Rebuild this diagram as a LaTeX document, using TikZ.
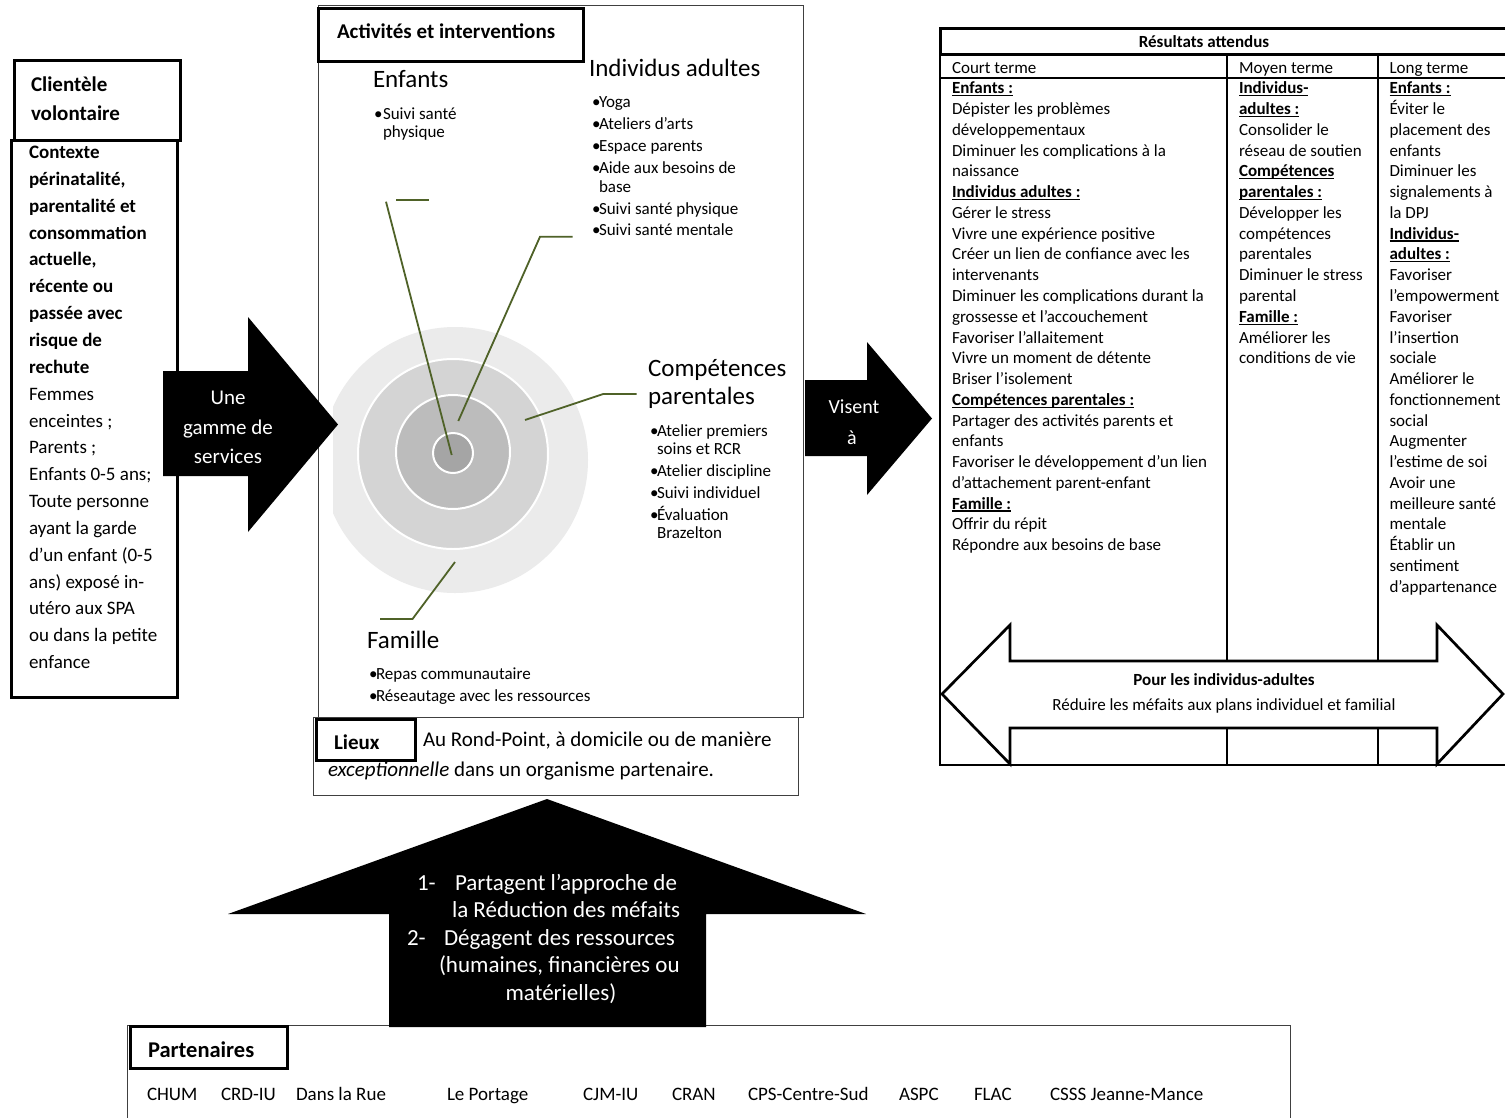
\documentclass[tikz,border=0pt]{standalone}
\usepackage{fontspec}
\setmainfont{Carlito}
\usetikzlibrary{calc}
\definecolor{smartgreen}{HTML}{4F6228}
\definecolor{ringA}{HTML}{EBEBEB}
\definecolor{ringB}{HTML}{D4D4D4}
\definecolor{ringC}{HTML}{BCBCBC}
\definecolor{ringD}{HTML}{A5A5A5}
\newcommand\fs[2]{\fontsize{#1}{#2}\selectfont}
\newsavebox\ulbox
\newcommand\myul[1]{\sbox\ulbox{#1}\rlap{\rule[-2.4pt]{\wd\ulbox}{1.1pt}}\usebox\ulbox}
\newcommand\bul[1]{\myul{\textbf{#1}}}
\newcommand\txtlines[6]{%
  \foreach \myline [count=\myi] in {#6} {%
    \node[txt, #1] (#2-\myi) at (#3, {#4+(\myi-1)*#5}) {\myline};
  }%
}
\tikzset{
  txt/.style={inner sep=0pt, outer sep=0pt, anchor=base west},
  ctxt/.style={inner sep=0pt, outer sep=0pt, anchor=base},
  thickbox/.style={draw=black, line width=3pt},
  thinbox/.style={draw=black!75, line width=1pt},
  tline/.style={draw=black, line width=1.3pt},
  callout/.style={draw=smartgreen, line width=1.8pt},
  ring/.style={draw=white, line width=2pt},
  blockarrow/.style={fill=black, draw=none},
  bodyL/.style={font=\fs{19}{23}},
  bodyLb/.style={font=\fs{19}{23}\bfseries},
  item/.style={font=\fs{17}{20}},
  head/.style={font=\fs{25}{30}},
  tab/.style={font=\fs{17}{20}},
  white21/.style={font=\fs{21}{25}, text=white},
  white23/.style={font=\fs{23}{27}, text=white},
}
\begin{document}
\begin{tikzpicture}[x=1pt,y=-1pt]
\fill[white] (0,0) rectangle (1505,1117);
\useasboundingbox (0,0) rectangle (1505,1117);

% ---------------- Left box: clientele
\draw[thickbox] (11,140) rectangle (177,697);
\draw[thickbox, fill=white] (14,60) rectangle (180,140);
\node[txt, font=\fs{21}{25}\bfseries] (cl1) at (31,91) {Clientèle};
\node[txt, font=\fs{21}{25}\bfseries] (cl2) at (31,120) {volontaire};
\txtlines{bodyLb}{ctx}{29}{158.6}{26.84}{{Contexte},{périnatalité,},{parentalité et},{consommation},{actuelle,},{récente ou},{passée avec},{risque de},{rechute}}
\txtlines{bodyL}{pop}{29}{400.2}{26.84}{{Femmes},{enceintes ;},{Parents ;},{Enfants 0-5 ans;},{Toute personne},{ayant la garde},{d’un enfant (0-5},{ans) exposé in-},{utéro aux SPA},{ou dans la petite},{enfance}}

% ---------------- Central box
\draw[thinbox] (318,5) rectangle (803,717);
\begin{scope}
  \clip (333,0) rectangle (800,800);
  \fill[ringA] (455,460) circle[radius=133];
\end{scope}
\draw[ring, fill=ringB] (453,454) circle[radius=95];
\draw[ring, fill=ringC] (453,452) circle[radius=57];
\draw[ring, fill=ringD] (453,453) circle[radius=20];
\draw[callout] (451.7,455) -- (386,201.7);
\draw[callout] (396,200) -- (429,200);
\draw[callout] (458.3,421) -- (540,236.7) -- (572.7,236.7);
\draw[callout] (525,420) -- (603.3,394) -- (636.7,394);
\draw[callout] (455,562) -- (412.5,619) -- (380,619);

\draw[thickbox, fill=white] (318,8) rectangle (583,61);
\node[txt, font=\fs{21}{25}\bfseries] (act) at (337,38.5) {Activités et interventions};

\node[txt, head] (enf) at (373,87) {Enfants};
\node[txt, item] (enfb) at (374,119) {•};
\txtlines{item}{enft}{383}{119}{18.5}{{Suivi santé},{physique}}

\node[txt, head] (ind) at (589,76) {Individus adultes};
\foreach \yy [count=\k] in {107,129,151,173,214,235} {\node[txt, item] (indb-\k) at (592,\yy) {•};}
\node[txt, item] (ind1) at (599,107) {Yoga};
\node[txt, item] (ind2) at (599,129) {Ateliers d\symbol{39}arts};
\node[txt, item] (ind3) at (599,151) {Espace parents};
\txtlines{item}{ind4}{599}{173}{19}{{Aide aux besoins de},{base}}
\node[txt, item] (ind5) at (599,214) {Suivi santé physique};
\node[txt, item] (ind6) at (599,235) {Suivi santé mentale};

\node[txt, head] (cp1) at (648,376) {Compétences};
\node[txt, head] (cp2) at (648,404) {parentales};
\foreach \yy [count=\k] in {436,476,498,520} {\node[txt, item] (cpb-\k) at (650,\yy) {•};}
\txtlines{item}{cpa}{657}{436}{18.5}{{Atelier premiers},{soins et RCR}}
\node[txt, item] (cpc) at (657,476) {Atelier discipline};
\node[txt, item] (cpd) at (657,498) {Suivi individuel};
\txtlines{item}{cpe}{657}{520}{18.5}{{Évaluation},{Brazelton}}

\node[txt, head] (fam) at (367,648) {Famille};
\foreach \yy [count=\k] in {679,701} {\node[txt, item] (famb-\k) at (369,\yy) {•};}
\node[txt, item] (fam1) at (376,679) {Repas communautaire};
\node[txt, item] (fam2) at (376,701) {Réseautage avec les ressources};

% ---------------- Lieux
\draw[thinbox] (313,717) rectangle (798,795);
\draw[thickbox, fill=white] (316,719) rectangle (415,760);
\node[txt, font=\fs{21}{25}\bfseries] (lx) at (334,749) {Lieux};
\node[txt, font=\fs{21}{25}] (lx1) at (423,746) {Au Rond-Point, à domicile ou de manière};
\node[txt, font=\fs{21}{25}] (lx2) at (328,776) {\textit{exceptionnelle} dans un organisme partenaire.};

% ---------------- Arrow 1
\fill[blockarrow] (163,371) -- (248,371) -- (248,317) -- (338,424.5) -- (248,532) -- (248,476) -- (163,476) -- cycle;
\node[ctxt, white21] (a1) at (228,404) {Une};
\node[ctxt, white21] (a2) at (228,434) {gamme de};
\node[ctxt, white21] (a3) at (228,463) {services};

% ---------------- Arrow 2
\fill[blockarrow] (805,380) -- (867,380) -- (867,342) -- (932,418.5) -- (867,495) -- (867,456) -- (805,456) -- cycle;
\node[ctxt, font=\fs{20}{24}, text=white] (v1) at (854,413) {Visent};
\node[ctxt, font=\fs{20}{24}, text=white] (v2) at (852,444) {à};

% ---------------- Results table
\draw[line width=3pt] (940,28) rectangle (1512,54);
\node[ctxt, font=\fs{17}{20}\bfseries] (res) at (1204,47) {Résultats attendus};
\draw[tline] (940,54) -- (940,765) -- (1512,765);
\draw[tline] (940,78) -- (1512,78);
\draw[tline] (1227,54) -- (1227,765);
\draw[tline] (1378,54) -- (1378,765);
\txtlines{tab}{c1}{952}{73}{20.77}{{Court terme},{\bul{Enfants :}},{Dépister les problèmes},{développementaux},{Diminuer les complications à la},{naissance},{\bul{Individus adultes :}},{Gérer le stress},{Vivre une expérience positive},{Créer un lien de confiance avec les},{intervenants},{Diminuer les complications durant la},{grossesse et l’accouchement},{Favoriser l’allaitement},{Vivre un moment de détente},{Briser l’isolement},{\bul{Compétences parentales :}},{Partager des activités parents et},{enfants},{Favoriser le développement d’un lien},{d’attachement parent-enfant},{\bul{Famille :}},{Offrir du répit},{Répondre aux besoins de base}}
\txtlines{tab}{c2}{1239}{73}{20.77}{{Moyen terme},{\bul{Individus-}},{\bul{adultes :}},{Consolider le},{réseau de soutien},{\bul{Compétences}},{\bul{parentales :}},{Développer les},{compétences},{parentales},{Diminuer le stress},{parental},{\bul{Famille :}},{Améliorer les},{conditions de vie}}
\txtlines{tab}{c3}{1389.5}{73}{20.77}{{Long terme},{\bul{Enfants :}},{Éviter le},{placement des},{enfants},{Diminuer les},{signalements à},{la DPJ},{\bul{Individus-}},{\bul{adultes :}},{Favoriser},{l’empowerment},{Favoriser},{l’insertion},{sociale},{Améliorer le},{fonctionnement},{social},{Augmenter},{l’estime de soi},{Avoir une},{meilleure santé},{mentale},{Établir un},{sentiment},{d’appartenance}}

\draw[line width=2.7pt, fill=white, line join=miter] (942,694) -- (1010,625) -- (1010,661) -- (1437,661) -- (1437,625) -- (1503,694) -- (1437,764) -- (1437,728) -- (1010,728) -- (1010,764) -- cycle;
\node[ctxt, font=\fs{17}{20}\bfseries] (da1) at (1224,685) {Pour les individus-adultes};
\node[ctxt, font=\fs{17}{20}] (da2) at (1224,710) {Réduire les méfaits aux plans individuel et familial};

% ---------------- Partners
\draw[thinbox] (127,1025) rectangle (1290,1130);
\draw[thickbox, fill=white] (130,1026) rectangle (287,1068);
\node[txt, font=\fs{22.5}{27}\bfseries] (pt) at (148,1057) {Partenaires};
\foreach \xx/\nm [count=\k] in {147/CHUM,221/CRD-IU,296/Dans la Rue,447/Le Portage,583/CJM-IU,672/CRAN,748/CPS-Centre-Sud,899/ASPC,974/FLAC,1050/CSSS Jeanne-Mance} {
  \node[txt, font=\fs{19}{23}] (p-\k) at (\xx,1100) {\nm};
}

% ---------------- Up arrow
\fill[blockarrow] (547,799) -- (866,914) -- (706,914) -- (706,1027) -- (389,1027) -- (389,914) -- (228,914) -- cycle;
\node[txt, white23] (u1n) at (417,890) {1-};
\node[txt, white23] (u1) at (455,890) {Partagent l’approche de};
\node[txt, white23] (u2) at (452,917.5) {la Réduction des méfaits};
\node[txt, white23] (u3n) at (407,945) {2-};
\node[txt, white23] (u3) at (444,945) {Dégagent des ressources};
\node[txt, white23] (u4) at (439,972.5) {(humaines, financières ou};
\node[ctxt, white23] (u5) at (561,1000) {matérielles)};
\end{tikzpicture}
\end{document}
